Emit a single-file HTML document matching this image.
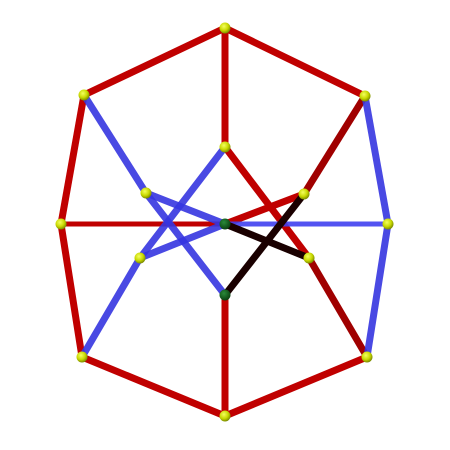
<!DOCTYPE html>
<html><head><meta charset="utf-8"><style>
html,body{margin:0;padding:0;background:#fff;width:450px;height:450px;overflow:hidden}
</style></head><body>
<svg id="g" width="450" height="450" viewBox="0 0 450 450">
<defs>
<radialGradient id="ball" cx="40%" cy="35%" r="65%">
<stop offset="0" stop-color="#f4ff60"/><stop offset="0.6" stop-color="#c8d800"/><stop offset="1" stop-color="#7a8a00"/>
</radialGradient>
<radialGradient id="ballg" cx="40%" cy="35%" r="65%">
<stop offset="0" stop-color="#2a8a3a"/><stop offset="1" stop-color="#0a4010"/>
</radialGradient>
</defs>
</svg>
<script>
const nodeNames = ['A','B','C','D','E','F','G','H','I','J','K','L','M','N','O'];
const nodeX = [225,84,365,61,388,82,367,225,225,146,304,225,140,309,225];
const nodeY = [28,95,96,224,224,357,357,416,147,193,194,224,258,258,295];
const edgeFrom = ['A','A','B','D','F','H','A','I','D','K','C','N','H','C','E','B','J','L','I','M','L','K','L','J'];
const edgeTo   = ['B','C','D','F','H','G','I','N','L','L','K','G','O','E','G','J','L','M','M','F','E','O','N','O'];
const edgeKind = ['r','r','r','r','r','r','r','r','rt','r','dr','dr','r','b','b','b','b','b','b','b','bt','k','k','b'];
const darkNodes = ['L','O'];
const styles = {r:['#c00000',7],dr:['#a00000',7],rt:['#c00000',5],b:['#3535e0',7],bt:['#4040f0',5],k:['#1a0000',7]};
const svg = document.getElementById('g');
const NS = 'http://www.w3.org/2000/svg';
function px(n){return nodeX[nodeNames.indexOf(n)];}
function py(n){return nodeY[nodeNames.indexOf(n)];}
for (let i=0;i<edgeFrom.length;i++){
  const s = styles[edgeKind[i]];
  const l = document.createElementNS(NS,'line');
  l.setAttribute('x1',px(edgeFrom[i]));l.setAttribute('y1',py(edgeFrom[i]));
  l.setAttribute('x2',px(edgeTo[i]));l.setAttribute('y2',py(edgeTo[i]));
  l.setAttribute('stroke',s[0]);l.setAttribute('stroke-width',s[1]);
  if (edgeKind[i][0]==='b') l.setAttribute('stroke-opacity','0.9');
  
  
  svg.appendChild(l);
}
for (let i=0;i<nodeNames.length;i++){
  const c = document.createElementNS(NS,'circle');
  c.setAttribute('cx',nodeX[i]);c.setAttribute('cy',nodeY[i]);c.setAttribute('r',5.5);
  c.setAttribute('fill', darkNodes.includes(nodeNames[i]) ? 'url(#ballg)' : 'url(#ball)');
  
  
  svg.appendChild(c);
}
</script>
</body></html>
